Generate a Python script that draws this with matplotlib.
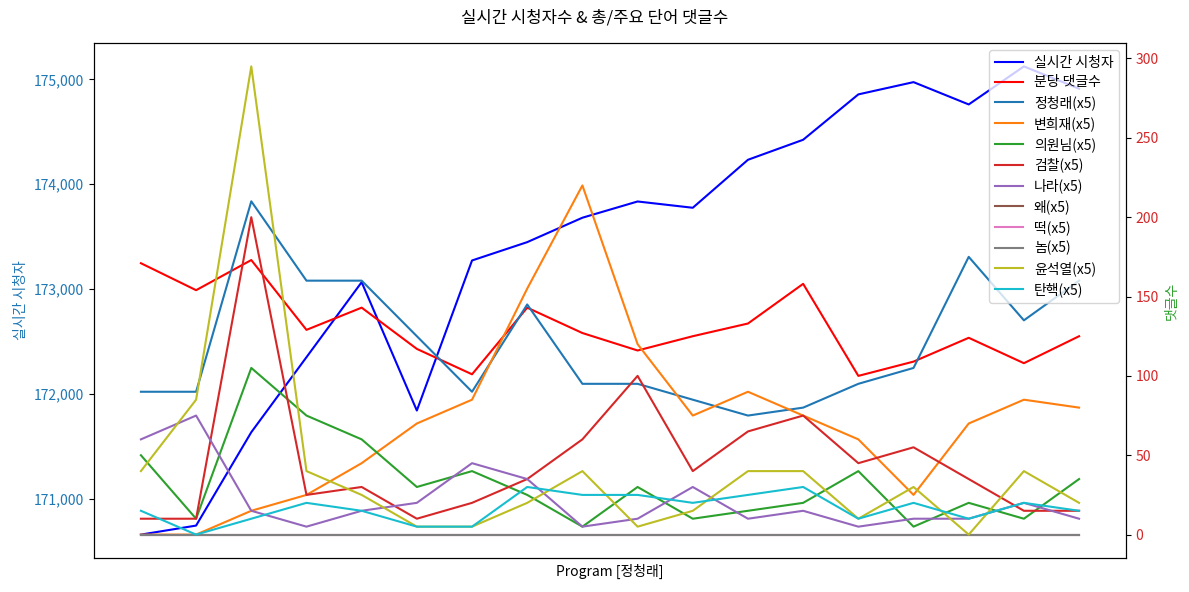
import numpy as np
import matplotlib
matplotlib.use("Agg")
import matplotlib.pyplot as plt
from matplotlib.ticker import FuncFormatter

plt.rcParams['font.family'] = ['Noto Sans CJK KR', 'DejaVu Sans']
plt.rcParams['axes.unicode_minus'] = False

# live viewers per program slot
viewers = [170656, 170742, 171633, 172349, 173065, 171840, 173272, 173447, 173680,
           173835, 173775, 174233, 174424, 174857, 174974, 174761, 175124, 174911]
# comments per minute
comments = [171, 154, 173, 129, 143, 117, 101, 143, 127,
            116, 125, 133, 158, 100, 109, 124, 108, 125]

# keyword counts (already x5)
keywords = {
    '정청래': [90, 90, 210, 160, 160, 125, 90, 145, 95, 95, 85, 75, 80, 95, 105, 175, 135, 160],
    '변희재': [0, 0, 15, 25, 45, 70, 85, 155, 220, 120, 75, 90, 75, 60, 25, 70, 85, 80],
    '의원님': [50, 10, 105, 75, 60, 30, 40, 25, 5, 30, 10, 15, 20, 40, 5, 20, 10, 35],
    '검찰': [10, 10, 200, 25, 30, 10, 20, 35, 60, 100, 40, 65, 75, 45, 55, 35, 15, 15],
    '나라': [60, 75, 15, 5, 15, 20, 45, 35, 5, 10, 30, 10, 15, 5, 10, 10, 20, 10],
    '왜': [0] * 18,
    '떡': [0] * 18,
    '놈': [0] * 18,
    '윤석열': [40, 85, 295, 40, 25, 5, 5, 20, 40, 5, 15, 40, 40, 10, 30, 0, 40, 20],
    '탄핵': [15, 0, 10, 20, 15, 5, 5, 30, 25, 25, 20, 25, 30, 10, 20, 10, 20, 15],
}

x = np.arange(len(viewers))

fig = plt.figure(figsize=(11.89, 5.92), dpi=100)
ax1 = fig.add_axes([94 / 1189, 1 - 558 / 592, (1126 - 94) / 1189, (558 - 43) / 592])

l1, = ax1.plot(x, viewers, color='blue', linewidth=1.5, label='실시간 시청자')
ax1.set_ylabel('실시간 시청자', color='tab:blue')
ax1.tick_params(axis='y', labelcolor='tab:blue')
ax1.yaxis.set_major_formatter(FuncFormatter(lambda v, p: f'{v:,.0f}'))
ax1.set_xticks([])
ax1.set_xlabel('Program [정청래]')

ax2 = ax1.twinx()
lines = [l1]
l2, = ax2.plot(x, comments, color='red', linewidth=1.5, label='분당 댓글수')
lines.append(l2)
for i, (name, vals) in enumerate(keywords.items()):
    ln, = ax2.plot(x, vals, color=f'C{i}', linewidth=1.5, label=f'{name}(x5)')
    lines.append(ln)
ax2.set_ylabel('댓글수', color='tab:green')
ax2.tick_params(axis='y', labelcolor='tab:red')

ax2.legend(lines, [l.get_label() for l in lines], loc='upper right', fontsize=10,
           labelspacing=0.43)

fig.suptitle('실시간 시청자수 & 총/주요 단어 댓글수', fontsize=12, y=1 - 18 / 592, va='center')

fig.savefig('out.png', dpi=100)
